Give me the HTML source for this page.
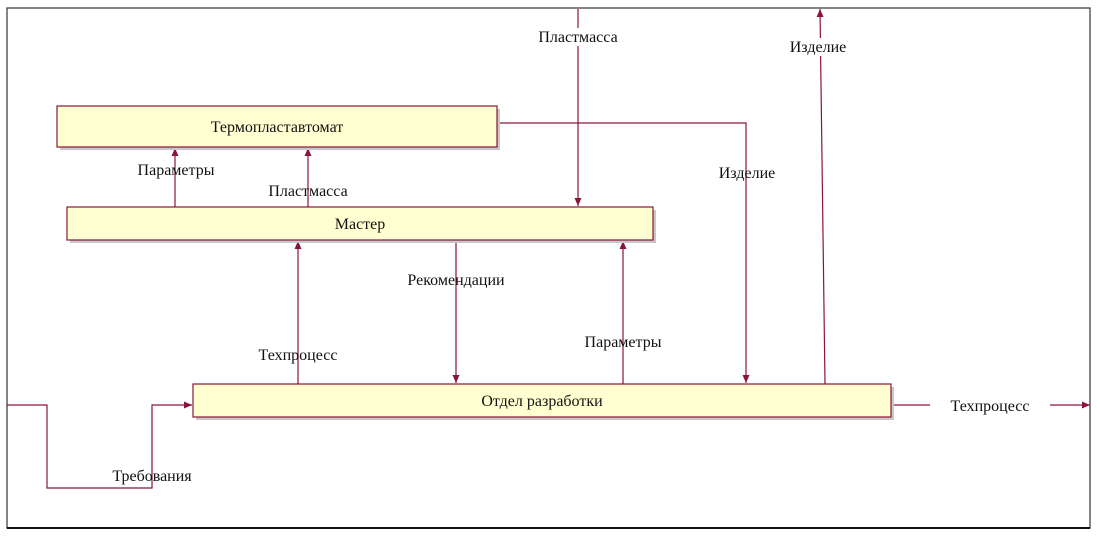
<!DOCTYPE html>
<html><head><meta charset="utf-8"><style>
html,body{margin:0;padding:0;background:#fff;}
svg text{font-family:"Liberation Serif",serif;font-size:16px;fill:#111;text-anchor:middle;}
</style></head><body>
<svg width="1100" height="538" viewBox="0 0 1100 538" xmlns="http://www.w3.org/2000/svg">
<defs>
<marker id="a" markerWidth="10" markerHeight="10" refX="9" refY="5" orient="auto" markerUnits="userSpaceOnUse">
<path d="M1,1.5 L9,5 L1,8.5 Z" fill="#8b1438"/></marker>
</defs>
<rect x="7" y="8" width="1083" height="520" fill="none" stroke="#333" stroke-width="1.2"/>
<line x1="7" y1="528" x2="1090" y2="528" stroke="#111" stroke-width="2"/>
<g stroke="#8b1438" stroke-width="1.2" fill="none">
<line x1="578" y1="9" x2="578" y2="206" marker-end="url(#a)"/>
<line x1="825" y1="384" x2="820" y2="9" marker-end="url(#a)"/>
<polyline points="497,123 746,123 746,383" marker-end="url(#a)"/>
<line x1="175" y1="207" x2="175" y2="148" marker-end="url(#a)"/>
<line x1="308" y1="207" x2="308" y2="148" marker-end="url(#a)"/>
<line x1="298" y1="384" x2="298" y2="241" marker-end="url(#a)"/>
<line x1="456" y1="240" x2="456" y2="383" marker-end="url(#a)"/>
<line x1="623" y1="384" x2="623" y2="241" marker-end="url(#a)"/>
<polyline points="7,405 47,405 47,488 152,488 152,405 192,405" marker-end="url(#a)"/>
<line x1="891" y1="405" x2="930" y2="405"/>
<line x1="1050" y1="405" x2="1090" y2="405" marker-end="url(#a)"/>
</g>
<g stroke="#8b1438" stroke-width="1.2">
<rect x="60" y="109" width="440" height="41" fill="#c8c8c8" stroke="none"/>
<rect x="57" y="106" width="440" height="41" fill="#ffffd2"/>
<rect x="70" y="210" width="586" height="33" fill="#c8c8c8" stroke="none"/>
<rect x="67" y="207" width="586" height="33" fill="#ffffd2"/>
<rect x="196" y="387" width="698" height="33" fill="#c8c8c8" stroke="none"/>
<rect x="193" y="384" width="698" height="33" fill="#ffffd2"/>
</g>
<text x="277" y="132">Термопластавтомат</text>
<text x="360" y="229">Мастер</text>
<text x="542" y="406">Отдел разработки</text>
<g>
<rect x="528" y="28" width="100" height="18" fill="#fff"/>
<text x="578" y="42">Пластмасса</text>
<rect x="782" y="38" width="76" height="18" fill="#fff"/>
<text x="818" y="52">Изделие</text>
<text x="747" y="178">Изделие</text>
<text x="176" y="175">Параметры</text>
<text x="308" y="196">Пластмасса</text>
<text x="298" y="360">Техпроцесс</text>
<text x="456" y="285">Рекомендации</text>
<text x="623" y="347">Параметры</text>
<text x="152" y="481">Требования</text>
<text x="990" y="411">Техпроцесс</text>
</g>
</svg>
</body></html>
